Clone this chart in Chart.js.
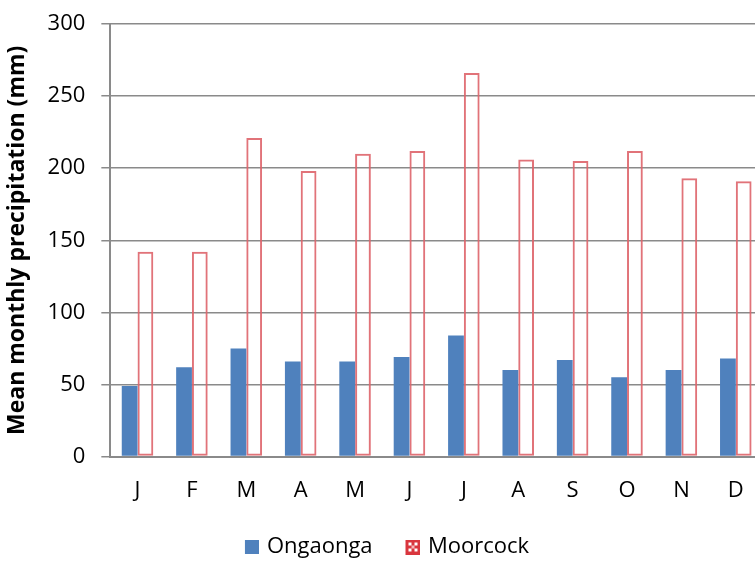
<!DOCTYPE html>
<html>
<head>
<meta charset="utf-8">
<script src="https://cdn.jsdelivr.net/npm/chart.js@4/dist/chart.umd.min.js"></script>
<style>
html,body{margin:0;padding:0;overflow:hidden;background:#fff;width:755px;height:561px;}
canvas{display:block;}
</style>
</head>
<body>
<canvas id="c" width="772" height="561"></canvas>
<script>
const months = ['J','F','M','A','M','J','J','A','S','O','N','D'];
const ongaonga = [49, 62, 75, 66, 66, 69, 84, 60, 67, 55, 60, 68];
const moorcock = [142, 142, 221, 198, 210, 212, 266, 206, 205, 212, 193, 191];
const seriesNames = ['Ongaonga', 'Moorcock'];
const yTicks = [0, 50, 100, 150, 200, 250, 300];

const BLUE = '#4F81BD';
const RED = 'rgba(222,100,106,0.9)';
const FONT = '"Open Sans", "Liberation Sans", sans-serif';

function makeBlueIcon(){
  const c = document.createElement('canvas'); c.width = 28; c.height = 14;
  const x = c.getContext('2d'); x.fillStyle = BLUE; x.fillRect(14,0,14,14); return c;
}
function makeRedIcon(){
  const c = document.createElement('canvas'); c.width = 29; c.height = 15;
  const x = c.getContext('2d');
  x.fillStyle = '#D9363E'; x.fillRect(14,0,15,15);
  x.fillStyle = '#ffffff';
  x.fillRect(17,3,3,3); x.fillRect(23,3,3,3); x.fillRect(17,9,3,3); x.fillRect(23,9,3,3);
  x.fillStyle = '#F4B6B8';
  x.fillRect(20,6,3,3);
  return c;
}
const icons = [makeBlueIcon(), makeRedIcon()];
const legendTexts = [seriesNames[0] + '\u00a0\u00a0', seriesNames[1]];

new Chart(document.getElementById('c'), {
  type: 'bar',
  data: {
    labels: months,
    datasets: [
      { label: seriesNames[0], data: ongaonga, backgroundColor: BLUE, borderWidth: 0,
        barPercentage: 1.0, categoryPercentage: 0.58 },
      { label: seriesNames[1], data: moorcock, backgroundColor: 'rgba(255,255,255,0)', borderColor: RED, borderWidth: 2,
        borderSkipped: false, barPercentage: 1.0, categoryPercentage: 0.58 }
    ]
  },
  options: {
    responsive: false,
    animation: false,
    devicePixelRatio: 1,
    layout: { padding: { top: 1, right: 9, left: 0, bottom: -7 } },
    plugins: {
      tooltip: { enabled: false },
      legend: {
        position: 'bottom',
        labels: {
          font: { family: FONT, size: 22 },
          color: '#000',
          usePointStyle: true,
          padding: 11,
          generateLabels: (chart) => seriesNames.map((n, i) => ({
            text: legendTexts[i], pointStyle: icons[i], fillStyle: i ? RED : BLUE,
            strokeStyle: 'transparent', lineWidth: 0, datasetIndex: i, hidden: false
          }))
        }
      }
    },
    scales: {
      x: {
        grid: { display: true, color: 'rgba(0,0,0,0)', drawTicks: false },
        border: { display: true, color: '#8a8a8a', width: 2 },
        ticks: { font: { family: FONT, size: 22 }, color: '#000', padding: 21, maxRotation: 0 }
      },
      y: {
        min: 0, max: 300,
        afterBuildTicks: (s) => { s.ticks = yTicks.map(v => ({ value: v })); },
        grid: { color: '#8a8a8a', lineWidth: 1.5, tickLength: 9 },
        border: { display: true, color: '#8a8a8a', width: 2 },
        ticks: { font: { family: FONT, size: 22, lineHeight: 0.73 }, color: '#000', padding: 16 },
        title: {
          display: true, text: 'Mean monthly precipitation (mm)',
          font: { family: FONT, size: 23, weight: 'bold' }, color: '#000',
          padding: { top: 4, bottom: 0 }
        }
      }
    }
  }
});
</script>
</body>
</html>
